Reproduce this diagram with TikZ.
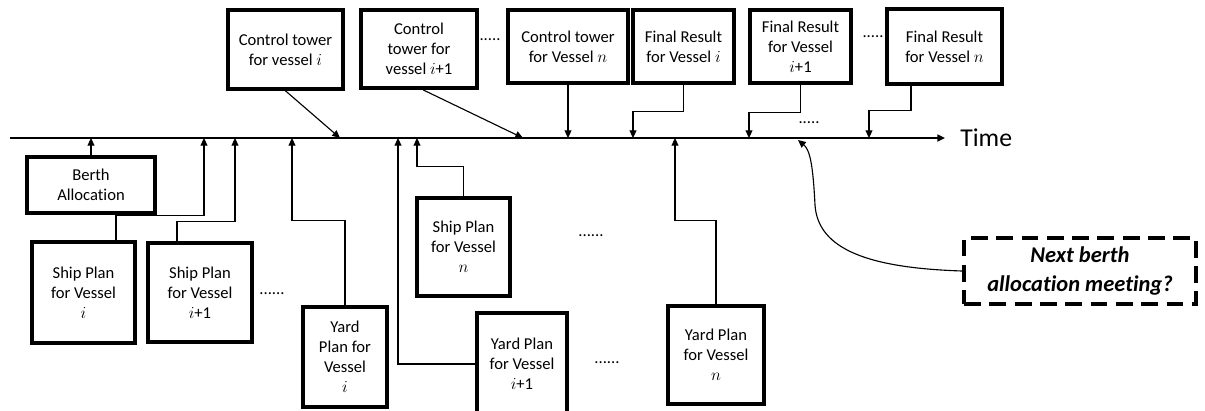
\documentclass[tikz,border=0pt]{standalone}
\usepackage{fontspec}
\setmainfont{Carlito}[Ligatures=NoCommon]
\usepackage{tikz}
\usetikzlibrary{arrows.meta, positioning}

\begin{document}
\begin{tikzpicture}[
	x=0.025cm, y=-0.025cm,
	plan/.style={draw, line width=2.6pt, align=center, inner sep=1pt, font=\fontsize{11.8}{14.2}\selectfont},
	sz/.style 2 args={minimum width=#1*0.025cm, minimum height=#2*0.025cm},
	link/.style={-{Triangle[length=5.5pt,width=5pt]}, line width=0.8pt},
	axis/.style={-{Triangle[length=5.5pt,width=5pt]}, line width=1.1pt},
	gap/.style={font=\fontsize{11.8}{14}\selectfont, inner sep=0pt},
	meeting/.style={draw, line width=2.6pt, dash pattern=on 12pt off 6pt, align=center, font=\fontsize{16}{20}\selectfont\bfseries\itshape}
	]
	
	\useasboundingbox (0,0) rectangle (1205,410);
	\clip (0,0) rectangle (1205,410);
	
	% ---------------- TIME AXIS ----------------
	\coordinate (t0) at (10,138);
	\coordinate (tend) at (945,138);
	\draw[axis] (t0) -- (tend);
	\node[font=\fontsize{18.3}{22}\selectfont, inner sep=0pt, right=0.375cm of tend] (time) {Time};
	
	\foreach \n/\x in {aB/91, aSi/204, aSi1/235, aYi/292, aCi/340, aYi1/398, aSn/417, aCi1/523,
		aCn/568, aFi/633, aYn/675, aFi1/749, aFn/869}
		\coordinate (\n) at (\x,138);
	\coordinate (aNx) at (798,140);
	
	% ---------------- CONTROL TOWERS / FINAL RESULTS ----------------
	\node[plan, sz={115}{79}] (cti) at (285.5,49.5) {Control tower\\for vessel $i$};
	\node[plan, sz={116}{78}] (cti1) at (419,49) {Control\\tower for\\vessel $i$+1};
	\node[gap] (dotsA) at (490,40) {.....};
	\node[plan, sz={120}{73}] (ctn) at (568,46.5) {Control tower\\for Vessel $n$};
	\node[plan, sz={101}{73}] (fri) at (683.5,46.5) {Final Result\\for Vessel $i$};
	\node[plan, sz={101}{73}] (fri1) at (800.5,46.5) {Final Result\\for Vessel\\$i$+1};
	\node[gap] (dotsB) at (873,37) {.....};
	\node[plan, sz={115}{75}] (frn) at (944.5,46.5) {Final Result\\for Vessel $n$};
	\node[gap] (dotsF) at (809,123) {.....};
	
	\draw[link] (cti.south) -- (aCi);
	\draw[link] ([xshift=0.1cm]cti1.south) -- (aCi1);
	\draw[link] (ctn.south) -- (aCn);
	\draw[link] (fri.south) -- ++(0,27) -| (aFi);
	\draw[link] (fri1.south) -- ++(0,28) -| (aFi1);
	\draw[link] ([xshift=-0.8375cm]frn.south) -- ++(0,25) -| (aFn);
	
	% ---------------- PLANS ----------------
	\node[plan, sz={128}{56}] (berth) at (91,185) {Berth\\Allocation};
	\node[plan, sz={103}{101}] (spi) at (83.5,292.5) {Ship Plan\\for Vessel\\$i$};
	\node[plan, sz={104}{99}] (spi1) at (200,292.5) {Ship Plan\\for Vessel\\$i$+1};
	\node[gap] (dotsC) at (272,294) {......};
	\node[plan, sz={84}{100}] (ypi) at (345,357) {Yard\\Plan for\\Vessel\\$i$};
	\node[plan, sz={90}{102}] (ypi1) at (522,364) {Yard Plan\\for Vessel\\$i$+1};
	\node[plan, sz={93}{98}] (spn) at (463.5,247) {Ship Plan\\for Vessel\\$n$};
	\node[gap] (dotsD) at (591,236) {......};
	\node[gap] (dotsE) at (607,363) {......};
	\node[plan, sz={96}{98}] (ypn) at (716,355) {Yard Plan\\for Vessel\\$n$};
	
	\draw[link] (berth.north) -- (aB);
	\draw[link] ([xshift=0.8125cm]spi.north) -- ++(0,-25) -| (aSi);
	\draw[link] ([xshift=-0.575cm]spi1.north) -- ++(0,-20) -| (aSi1);
	\draw[link] (ypi.north) -- ++(0,-85) -| (aYi);
	\draw[link] (ypi1.west) -| (aYi1);
	\draw[link] (spn.north) -- ++(0,-30) -| (aSn);
	\draw[link] (ypn.north) -- ++(0,-84) -| (aYn);
	
	% ---------------- NEXT MEETING ----------------
	\node[meeting, sz={232}{66}] (next) at (1080,271) {Next berth\\allocation meeting?};
	\draw[link] (next.west) .. controls (870,268) and (818,250) .. (815,205)
		.. controls (813,165) and (810,150) .. (aNx);
	
\end{tikzpicture}
\end{document}
